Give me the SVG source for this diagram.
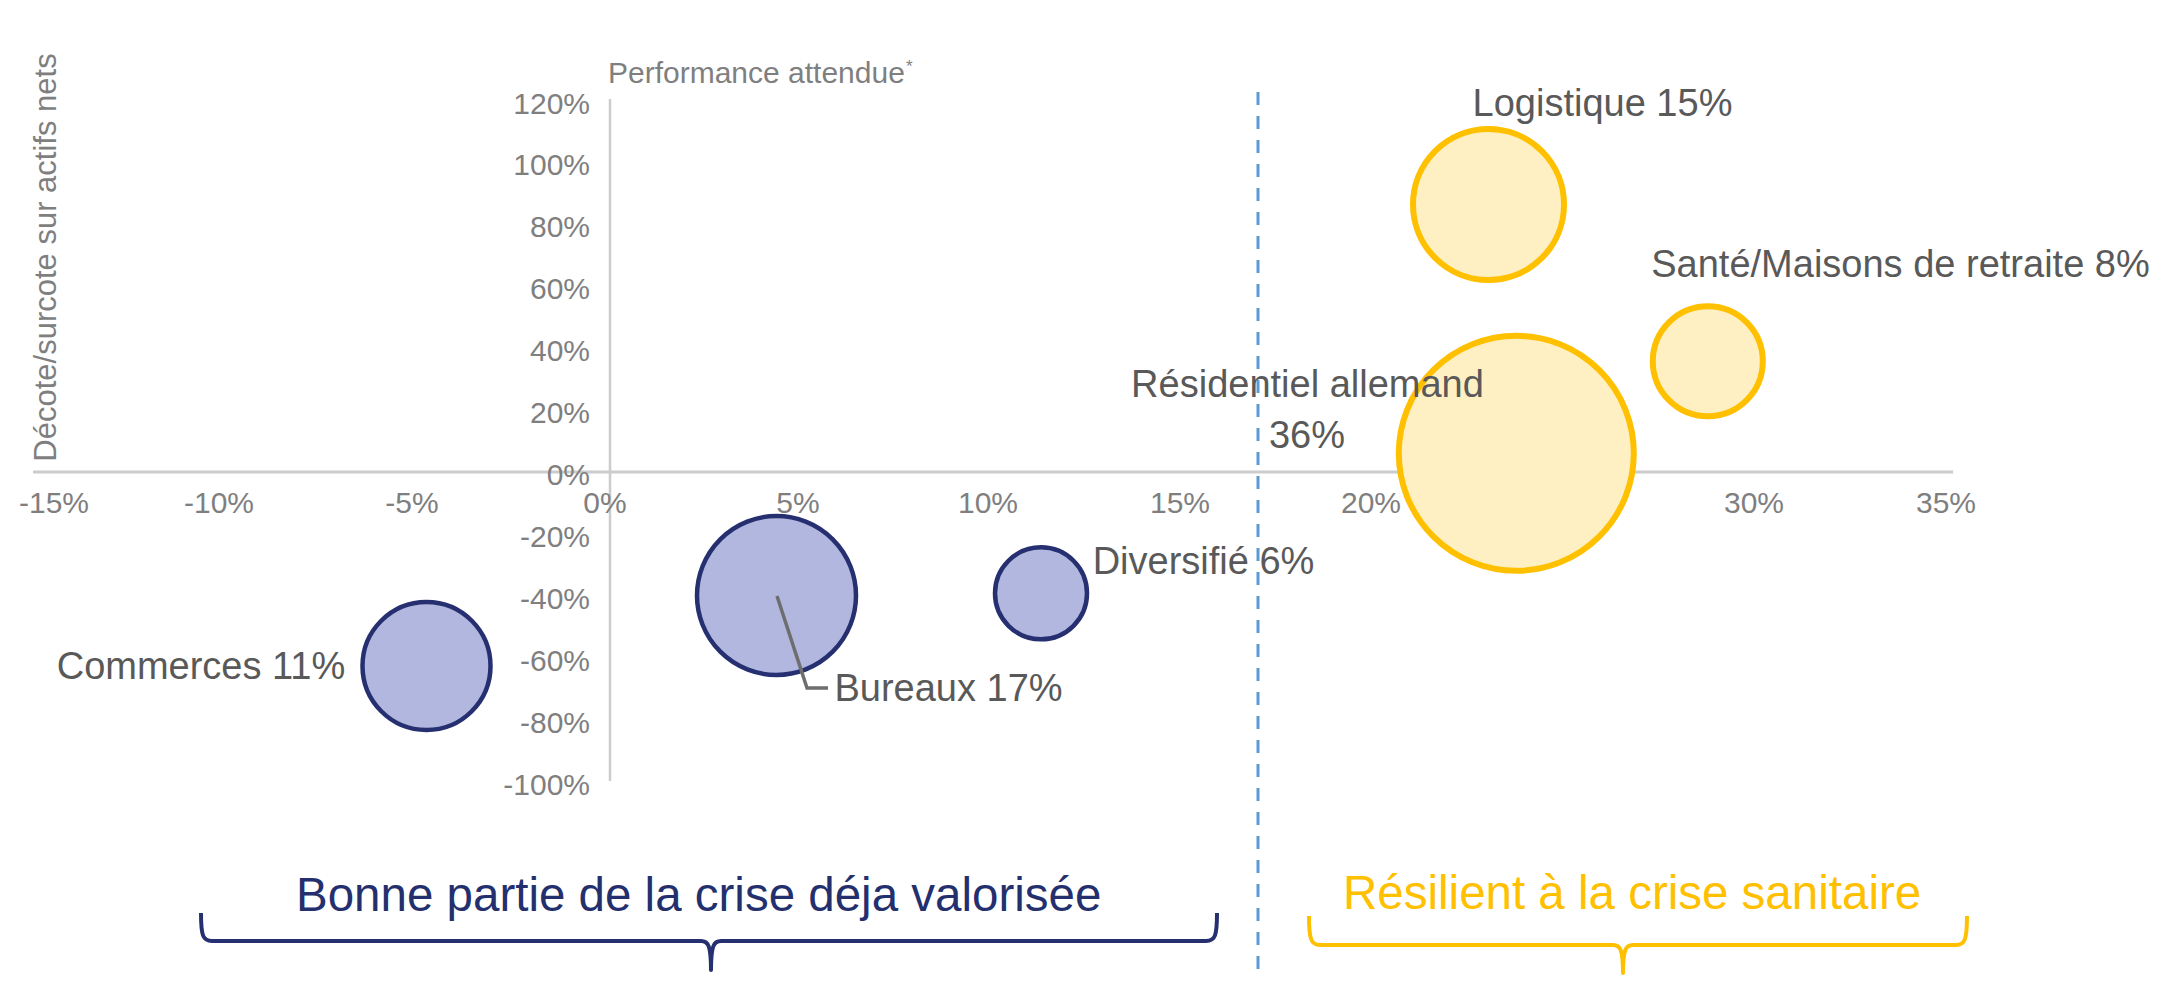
<svg xmlns="http://www.w3.org/2000/svg" width="2184" height="1008" viewBox="0 0 2184 1008">
  <style>
    text { font-family: "Liberation Sans", Arial, sans-serif; }
    .tick { font-size: 30px; fill: #7F7F7F; }
    .ty { text-anchor: end; }
    .tx { text-anchor: middle; }
    .axis { stroke: #CCCCCC; fill: none; }
    .lbl { font-size: 38px; fill: #595959; text-anchor: middle; }
    .navy { fill: #B1B7DE; stroke: #263071; stroke-width: 4.5; }
    .gold { fill: #FFF0C4; stroke: #FFC000; stroke-width: 6; }
    .brace { fill: none; stroke-width: 4; stroke-linejoin: round; stroke-linecap: butt; }
  </style>
  <rect x="0" y="0" width="2184" height="1008" fill="#FFFFFF"/>

  <!-- axes -->
  <g id="axes">
    <line class="axis" x1="33" y1="472" x2="1953" y2="472" stroke-width="3"/>
    <line class="axis" x1="610" y1="99" x2="610" y2="781" stroke-width="2.5"/>
  </g>

  <g id="y-ticks" class="tick ty">
    <text x="590" y="113.5">120%</text>
    <text x="590" y="175">100%</text>
    <text x="590" y="237">80%</text>
    <text x="590" y="299">60%</text>
    <text x="590" y="361">40%</text>
    <text x="590" y="423">20%</text>
    <text x="590" y="485">0%</text>
    <text x="590" y="547">-20%</text>
    <text x="590" y="609">-40%</text>
    <text x="590" y="671">-60%</text>
    <text x="590" y="733">-80%</text>
    <text x="590" y="795">-100%</text>
  </g>

  <g id="x-ticks" class="tick tx">
    <text x="54" y="512.5">-15%</text>
    <text x="219" y="512.5">-10%</text>
    <text x="412" y="512.5">-5%</text>
    <text x="605" y="512.5">0%</text>
    <text x="798" y="512.5">5%</text>
    <text x="988" y="512.5">10%</text>
    <text x="1180" y="512.5">15%</text>
    <text x="1371" y="512.5">20%</text>
    <text x="1754" y="512.5">30%</text>
    <text x="1946" y="512.5">35%</text>
  </g>

  <g id="axis-titles">
    <text x="608" y="83" font-size="30" fill="#7F7F7F">Performance attendue</text>
    <text x="906" y="72" font-size="17" fill="#7F7F7F">*</text>
    <text transform="translate(56,257.5) rotate(-90)" font-size="31" fill="#7F7F7F" text-anchor="middle">Décote/surcote sur actifs nets</text>
  </g>

  <!-- bubbles -->
  <g id="node-commerces">
    <circle class="navy" cx="426.5" cy="666" r="64"/>
  </g>
  <g id="node-bureaux">
    <circle class="navy" cx="776.5" cy="595.5" r="79.5"/>
  </g>
  <g id="node-diversifie">
    <circle class="navy" cx="1041" cy="593.3" r="46"/>
  </g>
  <g id="node-logistique">
    <circle class="gold" cx="1488.5" cy="204.5" r="75.5"/>
  </g>
  <g id="node-sante">
    <circle class="gold" cx="1707.8" cy="361.3" r="55"/>
  </g>
  <g id="node-residentiel">
    <circle class="gold" cx="1516.3" cy="453.3" r="117.5"/>
  </g>

  <!-- connectors (label leader lines) -->
  <g id="connectors">
    <polyline points="777,596 807,688 828,688" fill="none" stroke="#6E6E6E" stroke-width="3.5"/>
  </g>

  <!-- data labels -->
  <g id="labels">
    <text class="lbl" x="201" y="679">Commerces 11%</text>
    <text class="lbl" x="948.5" y="701">Bureaux 17%</text>
    <text class="lbl" x="1203.5" y="573.5">Diversifié 6%</text>
    <text class="lbl" x="1602.5" y="116">Logistique 15%</text>
    <text class="lbl" x="1900.5" y="277">Santé/Maisons de retraite 8%</text>
    <text class="lbl" x="1307.5" y="396.5">Résidentiel allemand</text>
    <text class="lbl" x="1307" y="447.5">36%</text>
  </g>

  <!-- divider -->
  <g id="divider">
    <line x1="1258" y1="92" x2="1258" y2="973" stroke="#5B9BD5" stroke-width="3" stroke-dasharray="13 11"/>
  </g>

  <!-- group captions -->
  <g id="group-crise-valorisee">
    <text x="296" y="911" font-size="47.5" fill="#24306E">Bonne partie de la crise déja valorisée</text>
    <path class="brace" stroke="#263071" d="M201,913 C201,936 203,941 212,941 L701,941 C708,941 711,945 711,970 C711,945 714,941 721,941 L1206,941 C1215,941 1217,936 1217,913"/>
  </g>
  <g id="group-resilient">
    <text x="1343" y="909" font-size="47.5" fill="#FFC000">Résilient à la crise sanitaire</text>
    <path class="brace" stroke="#FFC000" d="M1309,916 C1309,939 1311,945 1320,945 L1613,945 C1620,945 1623,949 1623,973 C1623,949 1626,945 1633,945 L1956,945 C1965,945 1967,939 1967,916"/>
  </g>
</svg>
